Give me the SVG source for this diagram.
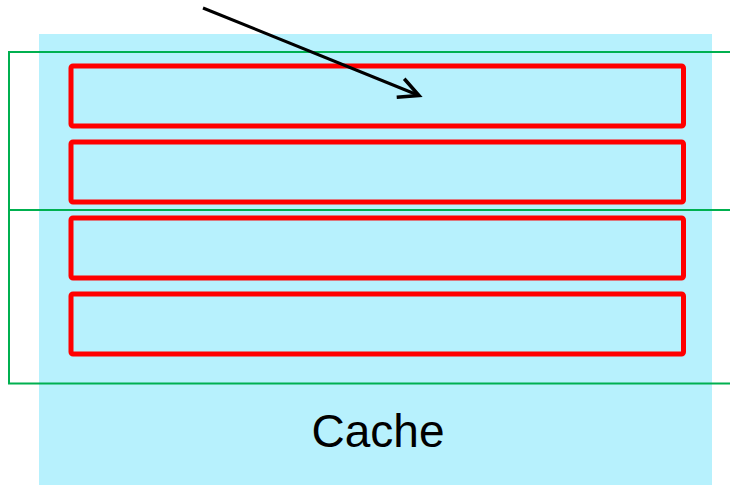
<svg xmlns="http://www.w3.org/2000/svg" width="730" height="485" viewBox="0 0 730 485">
<style>
.slot{fill:none;stroke:#ff0000;stroke-width:5}
.grp{fill:none;stroke:#00b050;stroke-width:2}
.lbl{font-family:"Liberation Sans",Arial,sans-serif;font-size:46px;fill:#000}
</style>
<defs>
<marker id="open" markerWidth="12" markerHeight="12" refX="10" refY="6" orient="auto" markerUnits="userSpaceOnUse" viewBox="0 0 12 12" overflow="visible">
<polyline points="-10,-4 10,6 -10,16" fill="none" stroke="#000" stroke-width="3.5"/>
</marker>
</defs>
<g id="cache">
<rect x="39" y="34" width="673" height="451" fill="#b7f1fd"/>
<text class="lbl" x="378" y="447" text-anchor="middle">Cache</text>
</g>
<g id="slot1"><rect class="slot" x="71" y="66" width="612.5" height="60" rx="2"/></g>
<g id="slot2"><rect class="slot" x="71" y="142" width="612.5" height="60" rx="2"/></g>
<g id="slot3"><rect class="slot" x="71" y="218" width="612.5" height="60" rx="2"/></g>
<g id="slot4"><rect class="slot" x="71" y="294" width="612.5" height="60" rx="2"/></g>
<g id="set1"><polyline class="grp" points="732,52 9,52 9,210 732,210"/></g>
<g id="set2"><polyline class="grp" points="732,210 9,210 9,383.5 732,383.5"/></g>
<g id="connectors">
<line x1="203" y1="8" x2="419" y2="95.5" stroke="#000" stroke-width="3" marker-end="url(#open)"/>
</g>
</svg>
